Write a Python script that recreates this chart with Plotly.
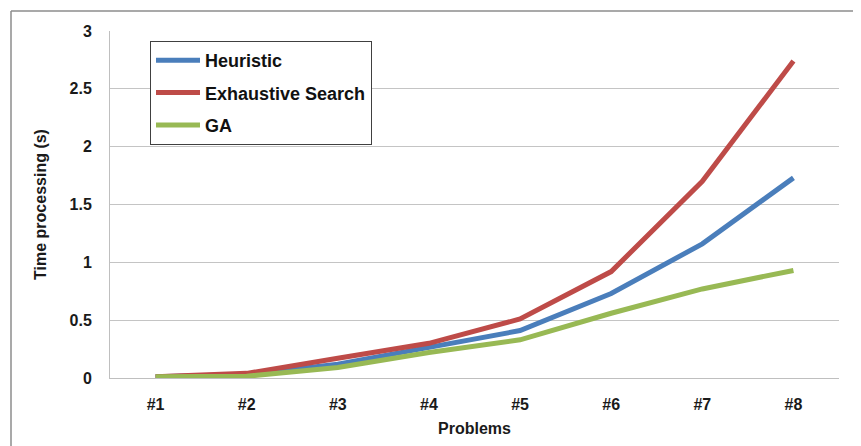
import plotly.graph_objects as go

problems = ["#1", "#2", "#3", "#4", "#5", "#6", "#7", "#8"]
heuristic = [0.01, 0.03, 0.12, 0.26, 0.41, 0.73, 1.16, 1.73]
exhaustive = [0.01, 0.04, 0.17, 0.30, 0.51, 0.92, 1.70, 2.74]
ga = [0.01, 0.015, 0.09, 0.22, 0.33, 0.56, 0.77, 0.93]

series = [
    ("Heuristic", heuristic, "#4A7EBB"),
    ("Exhaustive Search", exhaustive, "#BE4B48"),
    ("GA", ga, "#98B954"),
]

fig = go.Figure()
for i, (name, vals, color) in enumerate(series):
    fig.add_trace(go.Scatter(
        x=problems, y=vals, name=name, mode="lines",
        line=dict(color=color, width=5),
        legendgroup=f"g{i}",
    ))

# page has an 8px body margin; compensate
W, H = 853, 438
L, R, T, B = 102, 22, 23, 66
pw, ph = W - L - R, H - T - B

font_bold = "Liberation Sans"
fig.update_layout(
    width=W, height=H,
    margin=dict(l=L, r=R, t=T, b=B),
    paper_bgcolor="white", plot_bgcolor="white",
    font=dict(family=font_bold, size=16, color="#1a1a1a"),
    showlegend=True,
    legend=dict(
        x=(150 - 110) / pw, y=(380 - 41) / ph, xanchor="left", yanchor="top",
        bordercolor="#404040", borderwidth=1, bgcolor="white",
        font=dict(family=font_bold, size=18, color="#111111", weight="bold"),
        tracegroupgap=6,
        itemwidth=44,
    ),
    xaxis=dict(
        range=[-0.5, 7.5],
        showgrid=False, showline=True, linecolor="#bfbfbf", linewidth=1,
        ticks="", ticklabelstandoff=12,
        tickfont=dict(size=16, weight="bold"),
        title=dict(text="<b>Problems</b>", font=dict(size=16), standoff=10),
    ),
    yaxis=dict(
        range=[0, 3], tickvals=[0, 0.5, 1, 1.5, 2, 2.5, 3],
        ticktext=["0", "0.5", "1", "1.5", "2", "2.5", "3"],
        showgrid=True, gridcolor="#c4c4c4", gridwidth=1,
        showline=True, linecolor="#bfbfbf", linewidth=1,
        zeroline=False, ticks="", ticklabelstandoff=14,
        tickfont=dict(size=16, weight="bold"),
        title=dict(text="<b>Time processing (s)</b>", font=dict(size=16), standoff=18),
    ),
    shapes=[
        dict(type="line", xref="paper", yref="paper",
             x0=-(110 - 11) / pw, x1=1.1, y0=(380 - 11) / ph, y1=(380 - 11) / ph,
             line=dict(color="#8c8c8c", width=1.5)),
        dict(type="line", xref="paper", yref="paper",
             x0=-(110 - 11) / pw, x1=-(110 - 11) / pw, y0=(380 - 11) / ph, y1=-0.3,
             line=dict(color="#8c8c8c", width=1.5)),
    ],
)

fig.write_html("out.html")
